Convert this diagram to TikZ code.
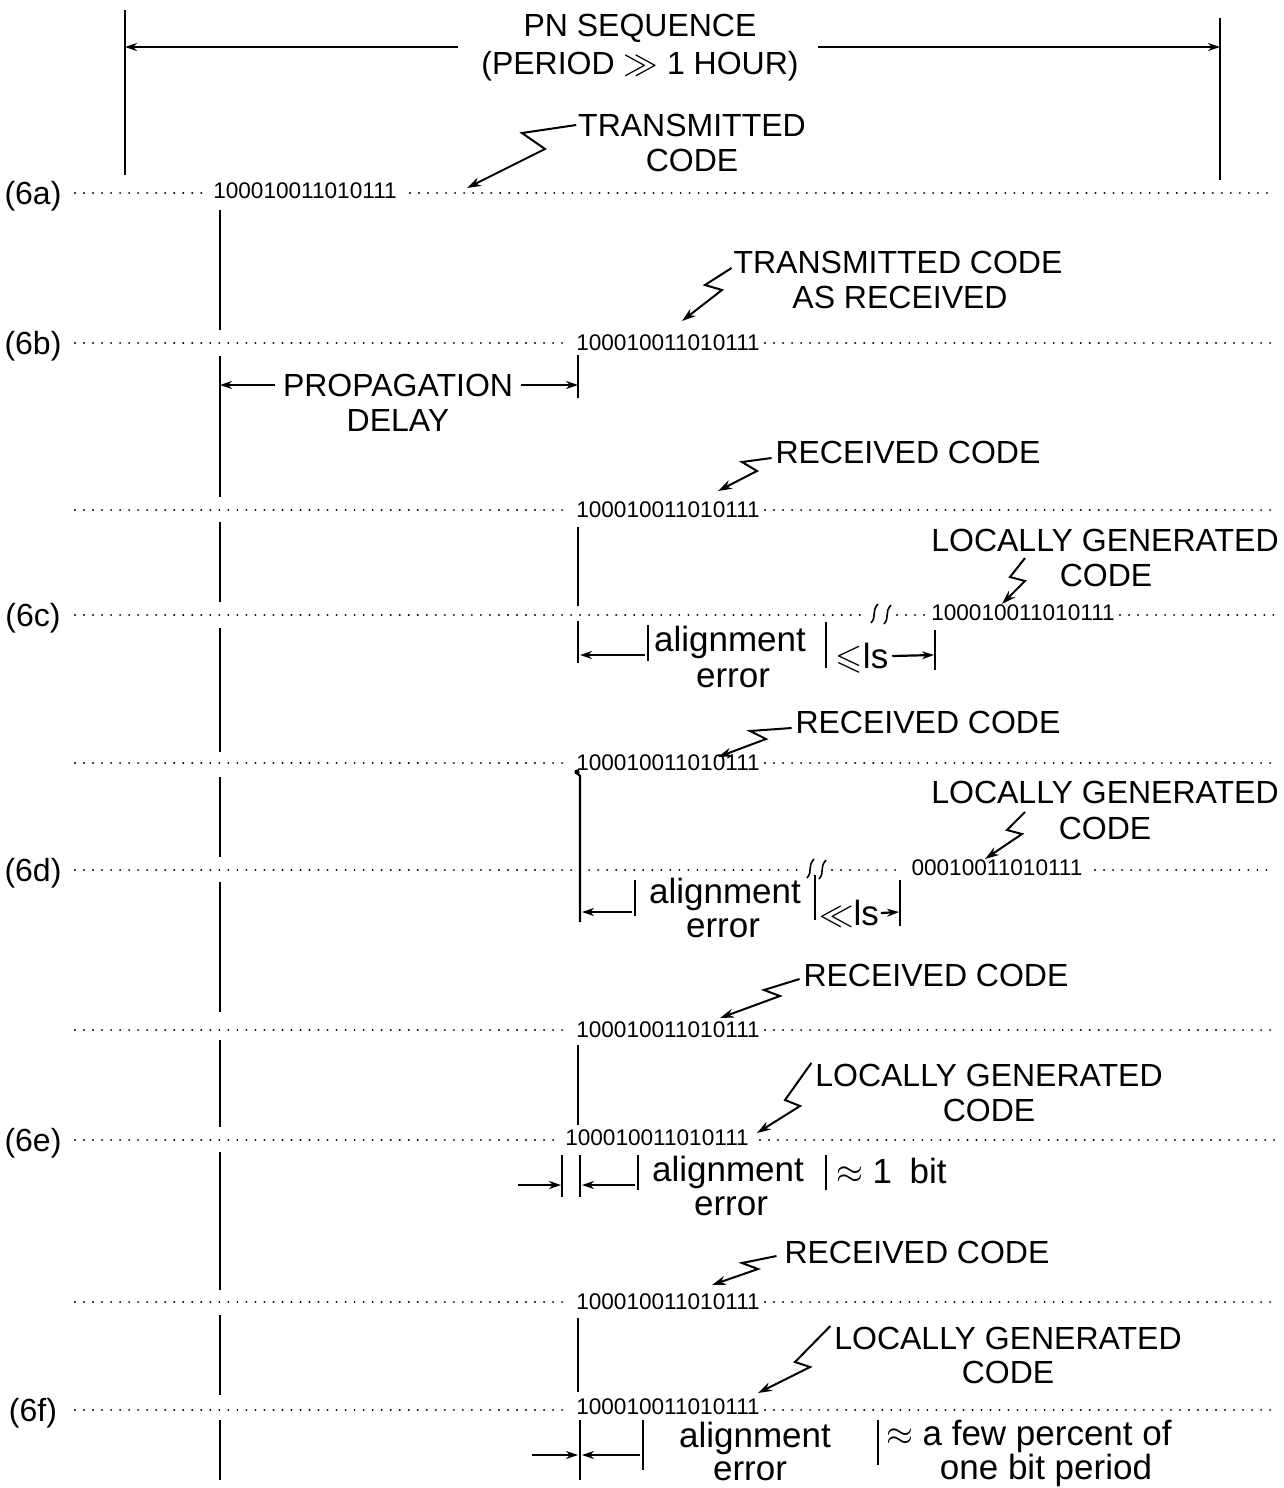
\documentclass[tikz,border=0pt]{standalone}
\usepackage{amssymb}
\usepackage{fontspec}
\setmainfont{Liberation Sans}
\usetikzlibrary{arrows.meta}
\begin{document}
\begin{tikzpicture}[x=0.5pt,y=-0.5pt,
  every node/.style={inner sep=0pt, outer sep=0pt, text depth=0pt, font=\fontsize{16}{18}\selectfont},
  bits/.style={font=\fontsize{11.3}{12}\selectfont},
  low/.style={font=\fontsize{17.5}{19}\selectfont},
  dotline/.style={line width=1.1pt, dash pattern=on 0.01pt off 4.5pt, line cap=round},
  vline/.style={line width=0.8pt},
  tick/.style={line width=0.8pt},
  dimarrow/.style={line width=1.1pt, -{Stealth[length=6pt,width=4pt]}},
  zig/.style={line width=1pt, -{Stealth[length=7pt,width=4.5pt]}},
  brk/.style={line width=0.8pt},
]
\useasboundingbox (0,0) rectangle (1284,1488);

% ---------- top: PN sequence ----------
\draw[vline] (125,10) -- (125,175);
\draw[vline] (1220,18) -- (1220,180);
\node (pn1) at (640,25) {PN SEQUENCE};
\node (pn2) at (640,63) {(PERIOD $\gg$ 1 HOUR)};
\coordinate (pnL) at (125,47);
\coordinate (pnR) at (1220,47);
\coordinate (pnLi) at (458,47);
\coordinate (pnRi) at (818,47);
\draw[dimarrow] (pnLi) -- (pnL);
\draw[dimarrow] (pnRi) -- (pnR);

% ---------- long vertical line at x=220 ----------
\foreach \a/\b in {210/330, 356/497, 522/602, 628/752, 777/857, 882/1012, 1040/1127, 1152/1290, 1315/1395, 1420/1480}
  \draw[vline] (220,\a) -- (220,\b);

% ---------- row 6a ----------
\node (r6a) at (33,193) {(6a)};
\node[bits] (b6a) at (305,191) {100010011010111};
\draw[dotline] (75,193) -- (208,193);
\draw[dotline] (410,193) -- (1275,193);
\node (t6a1) at (692,125) {TRANSMITTED};
\node (t6a2) at (692,160) {CODE};
\coordinate (e6a) at (467,188);
\draw[zig] ([xshift=-1pt]t6a1.west) -- (522,133) -- (545,149) -- (e6a);

% ---------- row 6b ----------
\node (r6b) at (33,343) {(6b)};
\node[bits] (b6b) at (668,343) {100010011010111};
\draw[dotline] (75,343) -- (570,343);
\draw[dotline] (765,343) -- (1275,343);
\node (t6b1) at (898,262) {TRANSMITTED CODE};
\node (t6b2) at (900,297) {AS RECEIVED};
\coordinate (e6b) at (682,321);
\draw[zig] ([xshift=-1pt,yshift=-3pt]t6b1.west) -- (705,285) -- (722,290) -- (e6b);

% propagation delay
\node (pd1) at (398,385) {PROPAGATION};
\node (pd2) at (398,420) {DELAY};
\coordinate (pdL) at (220,385);
\coordinate (pdR) at (578,385);
\draw[dimarrow] ([xshift=-4pt]pd1.west) -- (pdL);
\draw[dimarrow] ([xshift=4pt]pd1.east) -- (pdR);
\draw[tick] (578,355) -- (578,398);

% ---------- received code (c) ----------
\node (rc1) at (908,452) {RECEIVED CODE};
\coordinate (erc) at (718,491);
\draw[zig] ([xshift=-2pt,yshift=-3pt]rc1.west) -- (742,462) -- (757,471) -- (erc);
\node[bits] (bc) at (668,510) {100010011010111};
\draw[dotline] (75,510) -- (570,510);
\draw[dotline] (765,510) -- (1275,510);
\draw[vline] (578,527) -- (578,606);
\draw[vline] (578,621) -- (578,663);

% ---------- row 6c ----------
\node (r6c) at (33,615) {(6c)};
\draw[dotline] (75,615) -- (866,615);
\draw[brk] (871,623) .. controls (877,616) and (871,612) .. (878,604);
\draw[brk] (884,624) .. controls (890,617) and (884,613) .. (891,605);
\draw[dotline] (897,615) -- (928,615);
\node[bits] (b6c) at (1023,613) {100010011010111};
\draw[dotline] (1120,615) -- (1275,615);
\node (lc1) at (1105,540) {LOCALLY GENERATED};
\node (lc2) at (1106,575) {CODE};
\coordinate (slc) at (1025,558);
\coordinate (elc) at (1002,604);
\draw[zig] (slc) -- (1010,577) -- (1025,581) -- (elc);
% alignment error 6c
\coordinate (ac1) at (580,655);
\coordinate (ac1s) at (645,655);
\draw[dimarrow] (ac1s) -- (ac1);
\draw[tick] (648,625) -- (648,661);
\node[low] (aec1) at (730,639) {alignment};
\node[low] (aec2) at (733,678) {error};
\draw[tick] (826,622) -- (826,668);
\node[low] (lec) at (862,656) {$\leqslant$ls};
\coordinate (ac2) at (934,655);
\draw[dimarrow] ([xshift=2pt]lec.east) -- (ac2);
\draw[tick] (935,630) -- (935,670);

% ---------- received code (d) ----------
\node (rd1) at (928,722) {RECEIVED CODE};
\coordinate (erd) at (718,757);
\draw[zig] ([xshift=-2pt,yshift=-3pt]rd1.west) -- (750,731) -- (766,739) -- (erd);
\node[bits] (bd) at (668,763) {100010011010111};
\draw[dotline] (75,763) -- (570,763);
\draw[dotline] (765,763) -- (1275,763);
\draw[line width=1.2pt] (577,773) -- (580,776) -- (580,922);
\fill (577,772) circle (1.3pt);

% ---------- row 6d ----------
\node (r6d) at (33,870) {(6d)};
\draw[dotline] (75,870) -- (804,870);
\draw[brk] (807,878) .. controls (813,871) and (807,867) .. (814,859);
\draw[brk] (819,879) .. controls (825,872) and (819,868) .. (826,860);
\draw[dotline] (832,870) -- (900,870);
\node[bits] (b6d) at (997,868) {00010011010111};
\draw[dotline] (1095,870) -- (1275,870);
\node (ld1) at (1105,792) {LOCALLY GENERATED};
\node (ld2) at (1105,828) {CODE};
\coordinate (sld) at (1025,812);
\coordinate (eld) at (985,859);
\draw[zig] (sld) -- (1007,830) -- (1022,834) -- (eld);
% alignment error 6d
\coordinate (ad1) at (582,912);
\coordinate (ad1s) at (632,912);
\draw[dimarrow] (ad1s) -- (ad1);
\draw[tick] (635,880) -- (635,916);
\node[low] (aed1) at (725,891) {alignment};
\node[low] (aed2) at (723,928) {error};
\draw[tick] (815,875) -- (815,920);
\node[low] (led) at (849,913) {$\ll$ls};
\coordinate (ad2) at (899,912);
\draw[dimarrow] ([xshift=1pt]led.east) -- (ad2);
\draw[tick] (900,880) -- (900,926);

% ---------- received code (e) ----------
\node (re1) at (936,975) {RECEIVED CODE};
\coordinate (ere) at (720,1018);
\draw[zig] ([xshift=-2pt,yshift=-2pt]re1.west) -- (764,990) -- (780,996) -- (ere);
\node[bits] (be) at (668,1030) {100010011010111};
\draw[dotline] (75,1030) -- (570,1030);
\draw[dotline] (765,1030) -- (1275,1030);
\draw[vline] (578,1045) -- (578,1125);

% ---------- row 6e ----------
\node (r6e) at (33,1140) {(6e)};
\draw[dotline] (75,1140) -- (555,1140);
\node[bits] (b6e) at (657,1138) {100010011010111};
\draw[dotline] (760,1140) -- (1275,1140);
\node (le1) at (989,1075) {LOCALLY GENERATED};
\node (le2) at (989,1110) {CODE};
\coordinate (ele) at (757,1133);
\draw[zig] ([xshift=-2pt,yshift=6pt]le1.west) -- (785,1100) -- (800,1106) -- (ele);
% alignment error 6e
\coordinate (ae1s) at (518,1185);
\coordinate (ae1) at (561,1185);
\draw[dimarrow] (ae1s) -- (ae1);
\draw[tick] (562,1155) -- (562,1197);
\draw[tick] (580,1155) -- (580,1197);
\coordinate (ae2s) at (635,1185);
\coordinate (ae2) at (582,1185);
\draw[dimarrow] (ae2s) -- (ae2);
\draw[tick] (638,1155) -- (638,1190);
\node[low] (aee1) at (728,1169) {alignment};
\node[low] (aee2) at (731,1206) {error};
\draw[tick] (826,1155) -- (826,1190);
\node[low, anchor=west] (bit) at (836,1171) {$\approx$ 1\enspace bit};

% ---------- received code (f) ----------
\node (rf1) at (917,1252) {RECEIVED CODE};
\coordinate (erf) at (712,1285);
\draw[zig] ([xshift=-4pt,yshift=-2pt]rf1.west) -- (742,1263) -- (758,1269) -- (erf);
\node[bits] (bf) at (668,1302) {100010011010111};
\draw[dotline] (75,1302) -- (570,1302);
\draw[dotline] (765,1302) -- (1275,1302);
\draw[vline] (578,1318) -- (578,1392);

% ---------- row 6f ----------
\node (r6f) at (33,1410) {(6f)};
\draw[dotline] (75,1410) -- (570,1410);
\node[bits] (b6f) at (668,1407) {100010011010111};
\draw[dotline] (765,1410) -- (1275,1410);
\node (lf1) at (1008,1338) {LOCALLY GENERATED};
\node (lf2) at (1008,1372) {CODE};
\coordinate (elf) at (758,1393);
\draw[zig] ([xshift=-2pt,yshift=6pt]lf1.west) -- (795,1362) -- (810,1367) -- (elf);
% alignment error 6f
\coordinate (af1s) at (532,1455);
\coordinate (af1) at (578,1455);
\draw[dimarrow] (af1s) -- (af1);
\draw[vline] (580,1420) -- (580,1480);
\coordinate (af2s) at (640,1455);
\coordinate (af2) at (582,1455);
\draw[dimarrow] (af2s) -- (af2);
\draw[tick] (643,1420) -- (643,1470);
\node[low] (aef1) at (755,1435) {alignment};
\node[low] (aef2) at (750,1471) {error};
\draw[tick] (878,1420) -- (878,1465);
\node[low, anchor=west] (few1) at (886,1433) {$\approx$ a few percent of};
\node[low] (few2) at (1046,1467) {one bit period};
\end{tikzpicture}
\end{document}
